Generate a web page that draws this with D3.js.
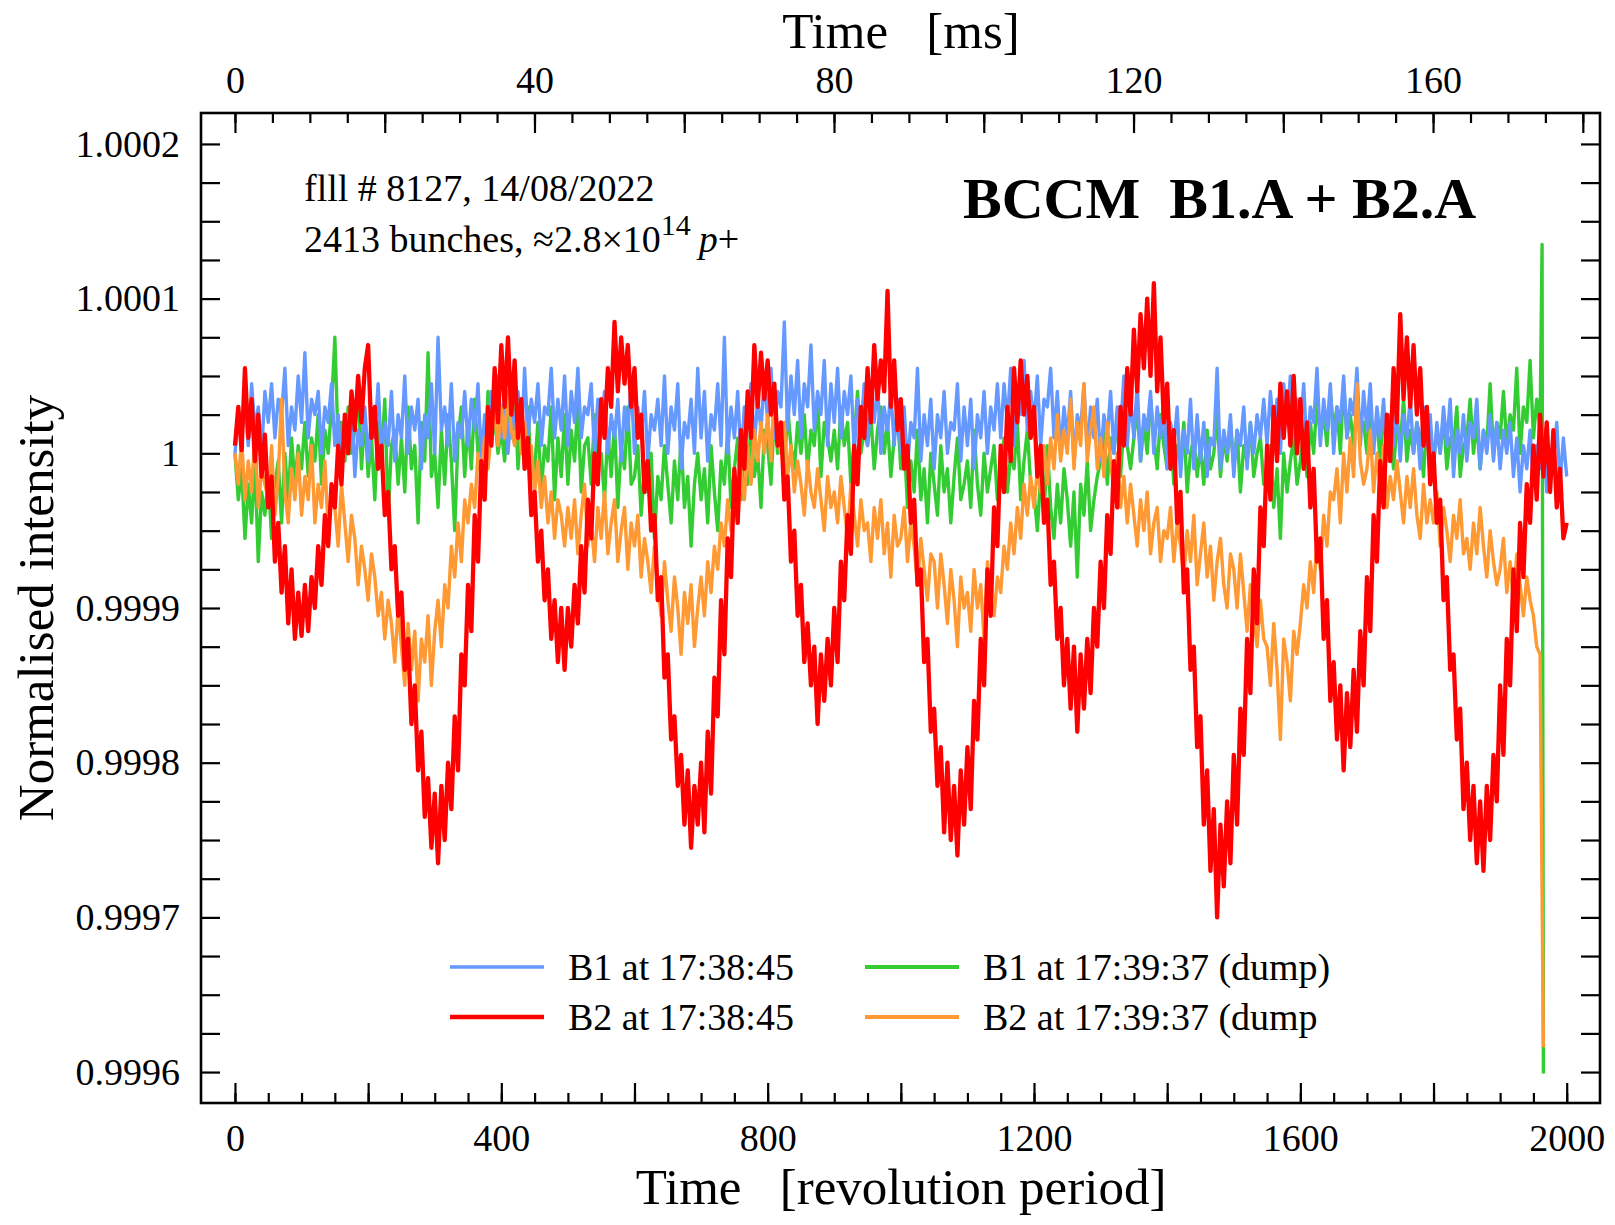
<!DOCTYPE html>
<html>
<head>
<meta charset="utf-8">
<script src="https://cdn.jsdelivr.net/npm/d3@7"></script>
<style>
  html, body { margin: 0; padding: 0; background: #fff; }
  svg text { font-family: "Liberation Serif", "Times New Roman", serif; fill: #000; }
</style>
</head>
<body>
<svg id="chart" width="1615" height="1225"></svg>
<script>
// ---------------- DATA (deviation from 1, in units of 1e-6) ----------------
const revStep = 5;                 // sampling of the arrays below [revolutions]
const revPeriodMs = 0.088924;      // LHC revolution period [ms]

// B1 at 17:38:45  (rev 0..2000)
const b1_173845 = [
 0,25,10,35,5,45,15,30,0,40, 20,45,10,35,25,55,5,30,15,50,
 20,65,10,35,25,40,0,30,20,45, 5,25,-10,20,0,35,-15,15,5,30,
 -5,25,10,45,0,20,5,40,-5,25, 10,50,0,30,15,35,-10,25,10,45,
 0,75,15,30,5,45,-5,20,10,40, 5,35,15,45,-5,25,10,40,20,50,
 10,45,0,30,15,40,5,55,10,35, 20,45,5,30,25,55,10,35,15,50,
 5,40,20,55,10,30,25,45,0,35, 15,40,0,25,10,35,-5,30,15,45,
 0,30,10,40,-5,25,15,35,5,50, 0,30,15,45,-10,20,10,35,0,55,
 10,40,-5,25,15,45,5,75,0,30, 10,40,-5,30,20,45,5,35,15,50,
 20,55,10,40,30,85,15,50,25,60, 10,45,30,70,15,40,25,60,5,45,
 20,55,10,40,25,50,0,35,15,45, 5,35,20,45,0,30,15,40,5,35,
 0,30,-10,20,10,55,-5,25,5,35, -10,25,10,40,0,20,15,45,-5,30,
 5,35,-10,25,10,40,0,30,15,45, 10,45,20,55,5,35,25,60,15,40,
 20,50,5,35,30,55,10,40,0,30, 10,40,-5,25,15,45,0,30,10,35,
 -5,25,10,40,0,30,15,50,5,35, 10,45,-5,25,15,40,0,30,10,35,
 -10,20,5,30,-15,15,0,35,-10,25, -5,20,-15,10,5,55,-10,15,0,25,
 -15,15,5,30,-10,20,0,25,10,35, 5,40,15,35,0,45,20,50,10,35,
 15,45,0,30,20,55,5,35,15,45, 0,30,20,50,10,35,25,55,5,40,
 15,45,0,30,10,35,-5,25,5,30, -5,25,10,35,0,20,-10,30,5,25,
 -10,20,0,30,5,35,-15,15,0,25, -5,20,10,35,-10,15,0,25,-5,20,
 -10,15,0,20,-15,10,-25,5,-10,15, -20,5,-10,15,-25,0,-5,20,-20,10,
 -15
];

// B2 at 17:38:45  (rev 0..2000)
const b2_173845 = [
 5,30,2,55,10,35,-5,25,-15,12, -35,-15,-70,-45,-90,-60,-110,-75,-120,-90,
 -118,-85,-115,-80,-100,-60,-85,-40,-60,-20, -35,5,-20,25,0,40,15,50,20,55,
 70,10,30,-10,5,-40,-25,-75,-60,-105, -90,-140,-120,-175,-150,-205,-180,-235,-210,-255,
 -220,-265,-215,-250,-200,-230,-170,-205,-130,-150, -85,-115,-40,-70,-5,-30,30,5,55,20,
 70,30,75,25,60,10,35,-10,10,-40, -25,-70,-50,-95,-75,-120,-95,-135,-100,-140,
 -100,-125,-85,-110,-60,-90,-30,-55,0,-20, 35,10,55,30,85,40,75,45,70,30,
 55,10,25,-25,-5,-50,-40,-95,-80,-145, -130,-185,-170,-215,-195,-240,-205,-255,-215,-240,
 -200,-245,-180,-220,-145,-170,-95,-130,-55,-80, -10,-45,15,-10,40,10,70,30,65,35,
 60,25,45,5,20,-30,-15,-70,-50,-105, -85,-135,-110,-150,-125,-175,-130,-160,-120,-150,
 -100,-135,-70,-95,-40,-65,5,-20,30,10, 55,20,70,35,60,40,105,30,60,15,
 35,-10,5,-45,-30,-85,-75,-135,-120,-180, -165,-215,-190,-245,-200,-250,-215,-260,-205,-240,
 -190,-230,-160,-185,-120,-150,-75,-105,-35,-60, 5,-25,30,-5,55,20,60,25,50,10,
 30,-15,5,-45,-30,-85,-70,-120,-100,-150, -120,-165,-125,-180,-130,-165,-120,-155,-100,-125,
 -70,-100,-40,-65,-5,-35,30,5,55,25, 80,40,90,55,100,50,110,40,75,20,
 45,-10,15,-45,-25,-90,-75,-140,-125,-190, -170,-240,-205,-270,-230,-300,-240,-280,-225,-265,
 -195,-240,-165,-195,-120,-155,-75,-110,-35,-60, 5,-30,30,-5,45,10,40,5,50,0,
 35,-10,20,-35,-10,-70,-55,-120,-95,-160, -135,-185,-150,-205,-155,-190,-140,-180,-115,-150,
 -80,-115,-40,-70,-5,-35,25,-5,55,20, 90,35,75,30,70,25,55,5,30,-20,
 0,-45,-30,-95,-80,-140,-130,-185,-165,-230, -200,-250,-215,-265,-225,-270,-215,-250,-195,-225,
 -150,-195,-120,-150,-75,-115,-45,-80,-20,-45, 5,-30,25,-15,20,-25,15,-35,-10,-55,
 -45
];

// B1 at 17:39:37 (dump)  (rev 0..1960)
const b1_173937 = [
 0,-30,-10,-55,-20,-45,-5,-70,-25,-40, -15,-55,-20,-5,-45,0,-30,10,-20,5,
 -10,20,-15,10,-5,25,-20,15,0,30, 75,5,20,-5,30,0,15,45,-10,25,
 -15,10,-30,20,-5,35,-40,5,15,-20, 10,-25,30,-10,5,-45,20,-5,65,-15,
 0,-35,15,-20,25,-5,-50,10,30,-15, 20,-10,35,0,15,-15,40,5,25,0,
 15,-5,30,10,45,-10,20,0,30,-15, -10,20,-25,5,-5,30,-30,10,-15,25,
 -20,15,-5,35,-25,5,10,-20,25,-10, 0,-30,15,-15,20,-35,5,-10,30,-20,
 -15,5,-40,-10,-25,0,-55,-15,-30,5, -20,-45,-5,-30,10,-35,-15,-60,-20,0,
 -30,-10,-45,5,-25,-50,-5,-20,15,-35, -10,10,-30,5,-20,20,-15,0,-35,15,
 5,-20,25,0,15,-15,30,5,-10,20, 0,25,-10,15,5,35,-15,20,10,-5,
 15,-10,30,5,20,-20,10,40,0,15, 5,25,-10,15,30,0,20,-15,10,25,
 -10,10,-35,-5,-25,15,-30,-10,-45,0, -20,-40,5,-25,-10,-45,-15,10,-30,-20,
 -5,-35,15,-20,-40,0,-25,-10,5,-30, -15,10,-25,0,-10,20,-30,-5,15,-20,
 -25,-50,-15,-40,5,-35,-55,-20,-45,-10, -30,-60,-25,-80,-20,-40,-5,-50,-30,-15,
 -5,15,-20,10,0,25,-15,20,5,-10, 10,30,-5,20,0,35,10,-10,25,5,
 -10,15,-20,5,-5,20,-25,0,10,-15, 5,-20,15,-10,0,25,-15,10,-5,20,
 -10,15,-25,5,-5,20,-15,0,10,-20, -15,5,-35,-10,-55,0,-25,-5,10,-20,
 -5,15,-15,20,0,35,10,25,5,40, 15,30,0,45,10,25,5,35,15,20,
 0,30,10,20,-5,25,5,15,-10,20, 5,35,-5,15,0,20,10,-15,25,0,
 -5,15,0,25,-10,10,5,30,-15,5, 10,35,0,20,-10,15,5,45,0,20,
 10,40,5,25,15,55,0,30,20,60, 10,35,15
];
// beam-dump transient of B1 (17:39:37)
const b1DumpRevs = [1963, 1965];
const b1DumpVals = [135, -401];

// B2 at 17:39:37 (dump)  (rev 0..1960)
const b2_173937 = [
 0,-20,10,-30,-5,-25,15,-35,-10,-20, -30,5,-40,-15,35,-25,-45,-10,-30,0,
 -40,-15,-30,5,-45,-20,-35,-5,-50,-25, -35,-60,-20,-45,-70,-40,-55,-85,-60,-75,
 -95,-65,-80,-105,-90,-120,-95,-110,-135,-100, -125,-150,-110,-140,-115,-160,-120,-135,-105,-150,
 -115,-95,-125,-85,-100,-60,-80,-45,-70,-30, -45,-20,-35,0,-15,10,-10,15,25,5,
 30,10,40,15,5,30,0,20,-10,5, -25,-5,-35,-15,-45,-25,-55,-30,-40,-60,
 -35,-55,-30,-65,-40,-20,-60,-45,-70,-35, -55,-25,-65,-45,-30,-70,-50,-35,-75,-45,
 -60,-40,-80,-55,-70,-90,-60,-85,-105,-70, -95,-115,-80,-100,-130,-90,-110,-85,-125,-100,
 -80,-105,-70,-90,-60,-75,-45,-60,-30,-50, -25,-45,-10,-30,5,-20,15,-5,20,0,
 25,-5,40,10,0,20,-15,5,-25,-5, -20,-40,-5,-25,-35,-10,-30,-50,-15,-35,
 -25,-45,-15,-35,-55,-20,-40,-60,-30,-50, -45,-70,-35,-55,-30,-65,-45,-80,-40,-60,
 -55,-35,-70,-45,-60,-85,-55,-75,-95,-65, -70,-100,-65,-85,-110,-75,-95,-125,-80,-100,
 -90,-115,-75,-100,-85,-120,-70,-95,-105,-80, -90,-60,-75,-45,-65,-35,-55,-20,-40,-15,
 -35,-10,-25,5,-20,10,-10,25,-5,15, 0,35,-10,20,5,45,-5,15,30,-10,
 10,-15,20,-5,-25,0,-35,-15,-45,-20, -40,-60,-30,-50,-25,-65,-45,-35,-70,-50,
 -55,-35,-70,-45,-60,-80,-50,-70,-40,-85, -65,-45,-80,-60,-95,-70,-55,-85,-100,-65,
 -75,-100,-65,-90,-115,-85,-105,-125,-95,-120, -125,-150,-110,-140,-185,-120,-135,-160,-115,-130,
 -110,-85,-100,-70,-90,-55,-75,-40,-60,-25, -30,-10,-45,0,-25,10,-15,45,-5,-20,
 -10,15,-25,0,-20,5,-35,-15,-30,-5, -25,-45,-15,-35,-10,-40,-55,-20,-45,-30,
 -45,-25,-60,-35,-50,-70,-40,-55,-30,-65, -55,-75,-45,-65,-35,-60,-80,-50,-70,-85,
 -75,-55,-90,-70,-95,-65,-85,-105,-80,-95, -105,-125,-130
];
// beam-dump transient of B2 (17:39:37)
const b2DumpRevs = [1965];
const b2DumpVals = [-384];

const xTicksBottom = [0, 400, 800, 1200, 1600, 2000];
const xTicksTop = [0, 40, 80, 120, 160];
const yTicks = [0.9996, 0.9997, 0.9998, 0.9999, 1, 1.0001, 1.0002];

const legendLabels = ["B1 at 17:38:45", "B2 at 17:38:45", "B1 at 17:39:37 (dump)", "B2 at 17:39:37 (dump"];
const seriesColors = ["#6699ff", "#ff0000", "#33cc33", "#ff9933"];

// ---------------- CHART ----------------
const svg = d3.select("#chart");
const L = 201, R = 1600, T = 113, B = 1103;

const x = d3.scaleLinear().domain([-51, 2050]).range([L, R]);
const xMs = d3.scaleLinear().domain(x.domain().map(r => r * revPeriodMs)).range([L, R]);
const y = d3.scaleLinear().domain([0.99958, 1.00022]).range([B, T]);

const toVal = ppm => 1 + ppm * 1e-6;

function pts(vals, revs) {
  return vals.map((v, i) => ({ r: revs ? revs[i] : i * revStep, v: toVal(v) }));
}

const line = d3.line().x(d => x(d.r)).y(d => y(d.v));

svg.append("defs").append("clipPath").attr("id", "clip")
  .append("rect").attr("x", L).attr("y", T).attr("width", R - L).attr("height", B - T);

const g = svg.append("g").attr("clip-path", "url(#clip)");

const sB1a = pts(b1_173845);
const sB2a = pts(b2_173845);
const sB1d = pts(b1_173937).concat(pts(b1DumpVals, b1DumpRevs));
const sB2d = pts(b2_173937).concat(pts(b2DumpVals, b2DumpRevs));

const draw = [
  { d: sB1d, c: seriesColors[2], w: 3.4 },
  { d: sB1a, c: seriesColors[0], w: 3.4 },
  { d: sB2d, c: seriesColors[3], w: 3.4 },
  { d: sB2a, c: seriesColors[1], w: 4.3 }
];
draw.forEach(s => {
  g.append("path").datum(s.d)
    .attr("fill", "none").attr("stroke", s.c).attr("stroke-width", s.w)
    .attr("stroke-linejoin", "round")
    .attr("d", line);
});

// axes (ticks pointing inward)
const tickFont = 38;
function styleAxis(sel) {
  sel.select(".domain").remove();
  sel.selectAll(".tick line").attr("stroke", "#000").attr("stroke-width", 2.2);
  sel.selectAll(".tick text").attr("font-size", tickFont)
    .attr("font-family", '"Liberation Serif", "Times New Roman", serif');
}

// bottom: minor every 50, major every 200
const bMinor = svg.append("g").attr("transform", `translate(0,${B})`)
  .call(d3.axisBottom(x).tickValues(d3.range(0, 2001, 50)).tickSize(-10).tickFormat(""));
styleAxis(bMinor);
const bMajor = svg.append("g").attr("transform", `translate(0,${B})`)
  .call(d3.axisBottom(x).tickValues(d3.range(0, 2001, 200)).tickSize(-20).tickFormat(""));
styleAxis(bMajor);
const bLab = svg.append("g").attr("transform", `translate(0,${B})`)
  .call(d3.axisBottom(x).tickValues(xTicksBottom).tickSize(0).tickPadding(21).tickFormat(d3.format("d")));
styleAxis(bLab);
bLab.selectAll(".tick line").remove();

// top: minor every 5 ms, major every 20 ms
const tMinor = svg.append("g").attr("transform", `translate(0,${T})`)
  .call(d3.axisTop(xMs).tickValues(d3.range(0, 181, 5)).tickSize(-10).tickFormat(""));
styleAxis(tMinor);
const tMajor = svg.append("g").attr("transform", `translate(0,${T})`)
  .call(d3.axisTop(xMs).tickValues(d3.range(0, 181, 20)).tickSize(-20).tickFormat(""));
styleAxis(tMajor);
const tLab = svg.append("g").attr("transform", `translate(0,${T})`)
  .call(d3.axisTop(xMs).tickValues(xTicksTop).tickSize(0).tickPadding(20).tickFormat(d3.format("d")));
styleAxis(tLab);

// left/right y ticks every 0.000025
const yMinorVals = d3.range(0, 25).map(i => 0.9996 + i * 0.000025);
const yl = svg.append("g").attr("transform", `translate(${L},0)`)
  .call(d3.axisLeft(y).tickValues(yMinorVals).tickSize(-19).tickFormat(""));
styleAxis(yl);
const yr = svg.append("g").attr("transform", `translate(${R},0)`)
  .call(d3.axisRight(y).tickValues(yMinorVals).tickSize(-19).tickFormat(""));
styleAxis(yr);
const yLab = svg.append("g").attr("transform", `translate(${L},0)`)
  .call(d3.axisLeft(y).tickValues(yTicks).tickSize(0).tickPadding(21).tickFormat(d => d === 1 ? "1" : d3.format(".4f")(d)));
styleAxis(yLab);

// frame
svg.append("rect").attr("x", L).attr("y", T).attr("width", R - L).attr("height", B - T)
  .attr("fill", "none").attr("stroke", "#000").attr("stroke-width", 2.6);

// axis titles
svg.append("text").attr("x", 901).attr("y", 48).attr("text-anchor", "middle")
  .attr("font-size", 51).style("white-space", "pre").text("Time   [ms]");
svg.append("text").attr("x", 901).attr("y", 1204).attr("text-anchor", "middle")
  .attr("font-size", 51).style("white-space", "pre").text("Time   [revolution period]");
svg.append("text").attr("transform", `translate(53,${(T + B) / 2}) rotate(-90)`)
  .attr("text-anchor", "middle").attr("font-size", 51).text("Normalised intensity");

// annotations
svg.append("text").attr("x", 304).attr("y", 201).attr("font-size", 38).text("flll # 8127, 14/08/2022");
const t2 = svg.append("text").attr("x", 304).attr("y", 252).attr("font-size", 38);
t2.append("tspan").text("2413 bunches, ≈2.8×10");
t2.append("tspan").attr("font-size", 30).attr("dy", -17).text("14");
t2.append("tspan").attr("dy", 17).attr("dx", 8).attr("font-style", "italic").text("p");
t2.append("tspan").text("+");

svg.append("text").attr("x", 963).attr("y", 218).attr("font-size", 58).attr("font-weight", "bold")
  .style("white-space", "pre").text("BCCM  B1.A + B2.A");

// legend
const legendPos = [
  { lx: 450, ly: 967 }, { lx: 450, ly: 1017 },
  { lx: 865, ly: 967 }, { lx: 865, ly: 1017 }
];
const legendW = [3.4, 4.3, 3.8, 3.8];
legendLabels.forEach((lab, i) => {
  const p = legendPos[i];
  svg.append("line").attr("x1", p.lx).attr("x2", p.lx + 94).attr("y1", p.ly).attr("y2", p.ly)
    .attr("stroke", seriesColors[i]).attr("stroke-width", legendW[i]);
  svg.append("text").attr("x", p.lx + 118).attr("y", p.ly + 13).attr("font-size", 38).text(lab);
});
</script>
</body>
</html>
